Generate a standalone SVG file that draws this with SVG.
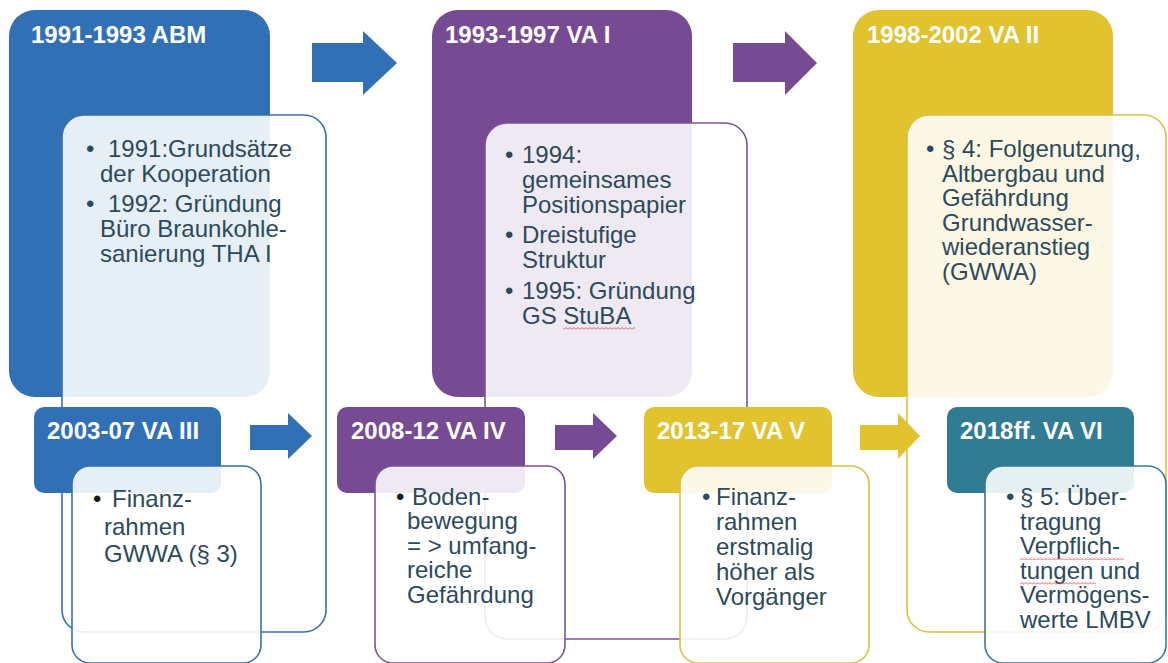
<svg xmlns="http://www.w3.org/2000/svg" width="1168" height="663" viewBox="0 0 1168 663">
<defs>
<style>
.title{font-family:"Liberation Sans",Arial,sans-serif;font-weight:bold;font-size:24px;fill:#ffffff}
.body{font-family:"Liberation Sans",Arial,sans-serif;font-size:24px;fill:#2d4a5a}
.blk{fill:#1a1a1a}
.tb{fill:#ffffff;fill-opacity:0.88;stroke-width:1.6}
.blue{fill:#3270b5}.purple{fill:#774b93}.yellow{fill:#e1c22f}.teal{fill:#317b93}
.sblue{stroke:#3a6fb2}.spurple{stroke:#7a5596}.syellow{stroke:#dcc043}.steal{stroke:#3c7a90}
</style>
<pattern id="squiggle" x="0" y="0" width="4" height="3" patternUnits="userSpaceOnUse">
<path d="M0,2.5 L2,0.5 L4,2.5" fill="none" stroke="#e03030" stroke-width="0.8"/>
</pattern>
</defs>
<rect width="1168" height="663" fill="#ffffff"/>

<!-- top row colored boxes -->
<g id="node-abm"><rect class="blue" x="9" y="10" width="261" height="387" rx="26"/><text class="title" x="31" y="43">1991-1993 ABM</text></g>
<g id="node-va1"><rect class="purple" x="432" y="10" width="260" height="387" rx="26"/><text class="title" x="445" y="43">1993-1997 VA I</text></g>
<g id="node-va2"><rect class="yellow" x="853" y="10" width="260" height="387" rx="26"/><text class="title" x="867" y="43">1998-2002 VA II</text></g>

<!-- top row text boxes -->
<g id="node-abm-text">
<rect class="tb sblue" x="62" y="115" width="264" height="517" rx="22"/>
<text class="body"><tspan x="86" y="157">•</tspan><tspan x="108" y="157">1991:Grundsätze</tspan><tspan x="100" y="182">der Kooperation</tspan><tspan x="86" y="212">•</tspan><tspan x="108" y="212">1992: Gründung</tspan><tspan x="100" y="237">Büro Braunkohle-</tspan><tspan x="100" y="262">sanierung THA I</tspan></text>
</g>
<g id="node-va1-text">
<rect class="tb spurple" x="485" y="123" width="262" height="516" rx="22"/>
<text class="body"><tspan x="505" y="163">•</tspan><tspan x="522" y="163">1994:</tspan><tspan x="522" y="188">gemeinsames</tspan><tspan x="522" y="213">Positionspapier</tspan><tspan x="505" y="243">•</tspan><tspan x="522" y="243">Dreistufige</tspan><tspan x="522" y="268">Struktur</tspan><tspan x="505" y="299">•</tspan><tspan x="522" y="299">1995: Gründung</tspan><tspan x="522" y="324">GS StuBA</tspan></text>
<rect x="563" y="327" width="72" height="3" fill="url(#squiggle)"/>
</g>
<g id="node-va2-text">
<rect class="tb syellow" x="907" y="115" width="259" height="517" rx="22"/>
<text class="body"><tspan x="926" y="157">•</tspan><tspan x="942" y="157">§ 4: Folgenutzung,</tspan><tspan x="942" y="182">Altbergbau und</tspan><tspan x="942" y="206">Gefährdung</tspan><tspan x="942" y="231">Grundwasser-</tspan><tspan x="942" y="255">wiederanstieg</tspan><tspan x="942" y="280">(GWWA)</tspan></text>
</g>

<!-- bottom row colored boxes -->
<g id="node-va3"><rect class="blue" x="34" y="407" width="187" height="86" rx="10"/><text class="title" x="47" y="439">2003-07 VA III</text></g>
<g id="node-va4"><rect class="purple" x="337" y="407" width="188" height="86" rx="10"/><text class="title" x="351" y="439">2008-12 VA IV</text></g>
<g id="node-va5"><rect class="yellow" x="644" y="407" width="188" height="86" rx="10"/><text class="title" x="657" y="439">2013-17 VA V</text></g>
<g id="node-va6"><rect class="teal" x="947" y="407" width="187" height="86" rx="10"/><text class="title" x="960" y="439">2018ff. VA VI</text></g>

<!-- connectors (block arrows) -->
<g id="connectors">
<polygon class="blue" points="312,43 363,43 363,31 397,63 363,95 363,82 312,82"/>
<polygon class="purple" points="733,43 785,43 785,31 817,63 785,95 785,82 733,82"/>
<polygon class="blue" points="250,425 288,425 288,413 312,436 288,459 288,450 250,450"/>
<polygon class="purple" points="555,425 593,425 593,413 617,436 593,459 593,450 555,450"/>
<polygon class="yellow" points="860,425 898,425 898,413 920,436 898,459 898,450 860,450"/>
</g>

<!-- bottom row text boxes -->
<g id="node-va3-text">
<rect class="tb sblue" x="72" y="466" width="189" height="197" rx="18"/>
<text class="body"><tspan class="blk" x="93" y="507">•</tspan><tspan x="112" y="507">Finanz-</tspan><tspan x="104" y="535">rahmen</tspan><tspan x="104" y="562">GWWA (§ 3)</tspan></text>
</g>
<g id="node-va4-text">
<rect class="tb spurple" x="375" y="466" width="190" height="197" rx="18"/>
<text class="body"><tspan class="blk" x="396" y="505">•</tspan><tspan x="412" y="505">Boden-</tspan><tspan x="407" y="529">bewegung</tspan><tspan x="407" y="554">= &gt; umfang-</tspan><tspan x="407" y="578">reiche</tspan><tspan x="407" y="603">Gefährdung</tspan></text>
</g>
<g id="node-va5-text">
<rect class="tb syellow" x="680" y="466" width="189" height="197" rx="18"/>
<text class="body"><tspan x="702" y="505">•</tspan><tspan x="716" y="505">Finanz-</tspan><tspan x="716" y="530">rahmen</tspan><tspan x="716" y="555">erstmalig</tspan><tspan x="716" y="580">höher als</tspan><tspan x="716" y="605">Vorgänger</tspan></text>
</g>
<g id="node-va6-text">
<rect class="tb steal" x="985" y="466" width="181" height="197" rx="18"/>
<text class="body"><tspan x="1006" y="505">•</tspan><tspan x="1020" y="505">§ 5: Über-</tspan><tspan x="1020" y="530">tragung</tspan><tspan x="1020" y="554">Verpflich-</tspan><tspan x="1020" y="579">tungen und</tspan><tspan x="1020" y="603">Vermögens-</tspan><tspan x="1020" y="628">werte LMBV</tspan></text>
<rect x="1020" y="557" width="104" height="3" fill="url(#squiggle)"/>
<rect x="1020" y="582" width="76" height="3" fill="url(#squiggle)"/>
</g>
</svg>
